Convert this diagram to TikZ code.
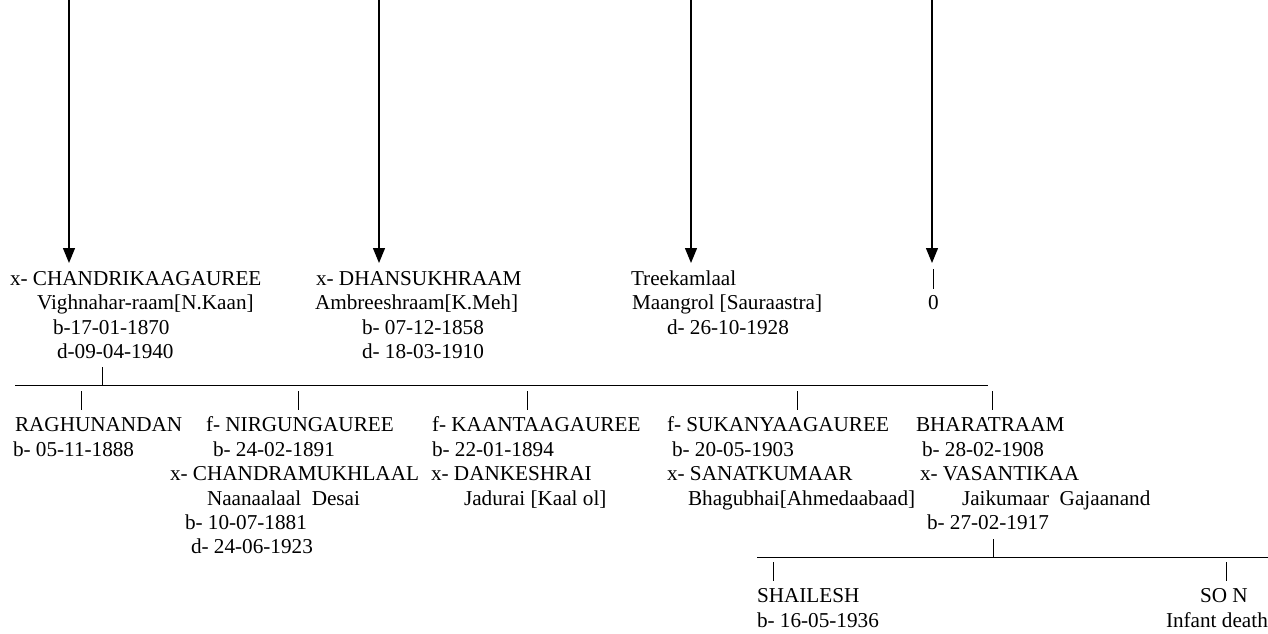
\documentclass[tikz,border=0pt]{standalone}
\usepackage{fontspec}
\setmainfont{Liberation Serif}
\usetikzlibrary{arrows.meta}

\tikzset{
  person/.style={anchor=base west, inner sep=0pt, outer sep=0pt},
  descent/.style={-{Triangle[length=15pt,width=12pt]}, line width=1.3pt},
  rule/.style={line width=0.9pt},
}

\begin{document}
\begin{tikzpicture}[x=1pt,y=-1pt,font=\fontsize{21.2}{24.4}\selectfont]
  \useasboundingbox (0,0) rectangle (1268,634);
  % lines coming down from the generation above
  \foreach \i/\x in {1/69,2/379,3/691,4/932} {
    \coordinate (top_\i) at (\x,0);
    \coordinate (tip_\i) at (\x,263);
    \draw[descent] (top_\i) -- (tip_\i);
  }

  % parents
  \node[person] (p_1)  at (10,285)  {x- CHANDRIKAAGAUREE};
  \node[person] (p_1b) at (37,309)  {Vighnahar-raam[N.Kaan]};
  \node[person] (p_1c) at (53,334)  {b-17-01-1870};
  \node[person] (p_1d) at (57,358)  {d-09-04-1940};
  \node[person] (p_2)  at (316,285) {x- DHANSUKHRAAM};
  \node[person] (p_2b) at (315,309) {Ambreeshraam[K.Meh]};
  \node[person] (p_2c) at (362,334) {b- 07-12-1858};
  \node[person] (p_2d) at (362,358) {d- 18-03-1910};
  \node[person] (p_3)  at (631,285) {Treekamlaal};
  \node[person] (p_3b) at (632,309) {Maangrol [Sauraastra]};
  \node[person] (p_3c) at (667,334) {d- 26-10-1928};
  \node[person] (p_4)  at (928,309) {0};
  \coordinate (p_4up) at (933,269);
  \coordinate (p_4dn) at (933,289);
  \draw[rule] (p_4up) -- (p_4dn);

  % children bar
  \coordinate (bar_w) at (15,385);
  \coordinate (bar_e) at (988,385);
  \coordinate (bar_j) at (102,367);
  \draw[rule] (bar_w) -- (bar_e);
  \draw[rule] (bar_j) -- (bar_j |- bar_w);
  \foreach \i/\x in {1/81,2/298,3/527,4/797,5/992} {
    \coordinate (up_\i) at (\x,391);
    \coordinate (dn_\i) at (\x,410);
    \draw[rule] (up_\i) -- (dn_\i);
  }

  % children
  \node[person] (k_1)  at (15,431)  {RAGHUNANDAN};
  \node[person] (k_1b) at (13,456)  {b- 05-11-1888};
  \node[person] (k_2)  at (206,431) {f- NIRGUNGAUREE};
  \node[person] (k_2b) at (213,456) {b- 24-02-1891};
  \node[person] (k_2c) at (170,480) {x- CHANDRAMUKHLAAL};
  \node[person] (k_2d) at (207,505) {Naanaalaal~~Desai};
  \node[person] (k_2e) at (185,529) {b- 10-07-1881};
  \node[person] (k_2f) at (191,553) {d- 24-06-1923};
  \node[person] (k_3)  at (432,431) {f- KAANTAAGAUREE};
  \node[person] (k_3b) at (432,456) {b- 22-01-1894};
  \node[person] (k_3c) at (431,480) {x- DANKESHRAI};
  \node[person] (k_3d) at (464,505) {Jadurai [Kaal ol]};
  \node[person] (k_4)  at (667,431) {f- SUKANYAAGAUREE};
  \node[person] (k_4b) at (672,456) {b- 20-05-1903};
  \node[person] (k_4c) at (667,480) {x- SANATKUMAAR};
  \node[person] (k_4d) at (688,505) {Bhagubhai[Ahmedaabaad]};
  \node[person] (k_5)  at (916,431) {BHARATRAAM};
  \node[person] (k_5b) at (922,456) {b- 28-02-1908};
  \node[person] (k_5c) at (920,480) {x- VASANTIKAA};
  \node[person] (k_5d) at (962,505) {Jaikumaar~~Gajaanand};
  \node[person] (k_5e) at (927,529) {b- 27-02-1917};

  % grandchildren bar
  \coordinate (gbar_w) at (757,557);
  \coordinate (gbar_e) at (1268,557);
  \coordinate (gbar_j) at (993,539);
  \draw[rule] (gbar_w) -- (gbar_e);
  \draw[rule] (gbar_j) -- (gbar_j |- gbar_w);
  \foreach \i/\x in {1/773,2/1226} {
    \coordinate (gup_\i) at (\x,562);
    \coordinate (gdn_\i) at (\x,581);
    \draw[rule] (gup_\i) -- (gdn_\i);
  }

  % grandchildren
  \node[person] (g_1)  at (757,602)  {SHAILESH};
  \node[person] (g_1b) at (757,627)  {b- 16-05-1936};
  \node[person] (g_2)  at (1200,602) {SO N};
  \node[person] (g_2b) at (1166,627) {Infant death};
\end{tikzpicture}
\end{document}
